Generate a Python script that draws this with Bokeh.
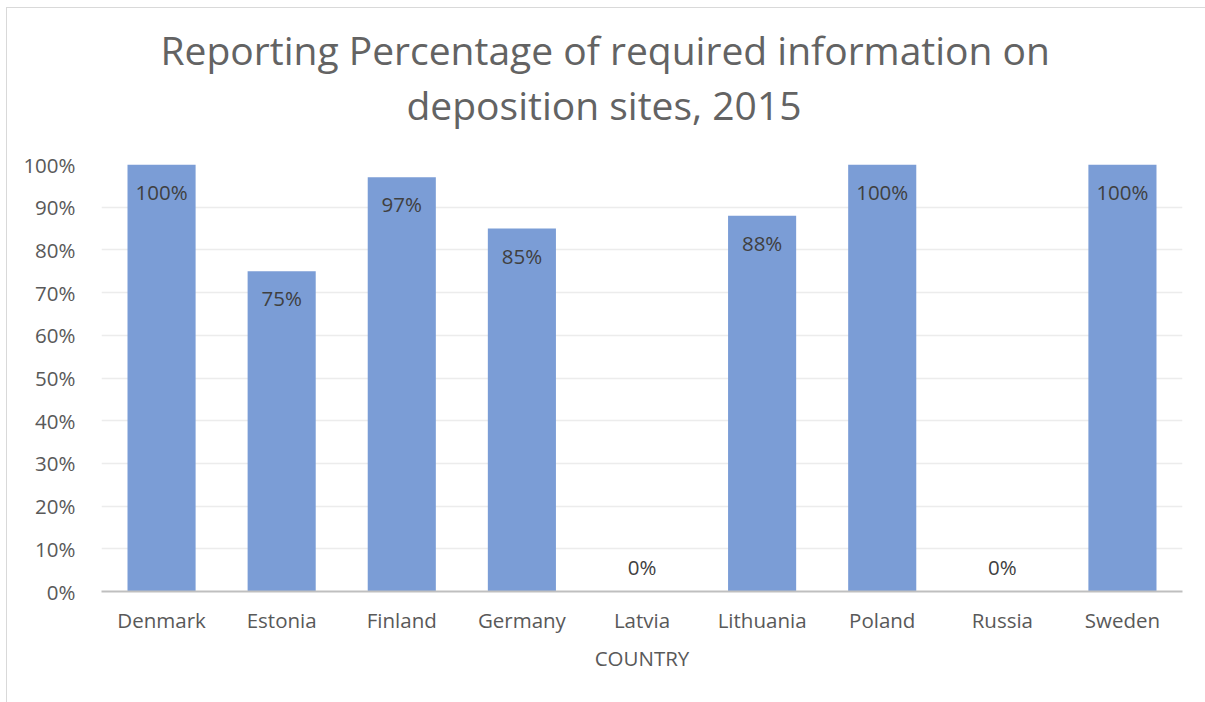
from bokeh.plotting import figure
from bokeh.models import ColumnDataSource, NumeralTickFormatter, FixedTicker, Title
from bokeh.core.properties import value
from bokeh.embed import file_html
from bokeh.resources import INLINE

countries = ["Denmark", "Estonia", "Finland", "Germany", "Latvia", "Lithuania", "Poland", "Russia", "Sweden"]
percent = [100, 75, 97, 85, 0, 88, 100, 0, 100]
y_ticks = [0, 10, 20, 30, 40, 50, 60, 70, 80, 90, 100]
title_lines = ["Reporting Percentage of required information on", "deposition sites, 2015"]

frac = [v / 100 for v in percent]
src = ColumnDataSource(dict(
    x=countries,
    top=frac,
    label=[f"{v}%" for v in percent],
    yoff=[27 if v > 0 else -25 for v in percent],
))

FONT = "Open Sans"
p = figure(x_range=countries, y_range=(0, 1.0), width=1199, height=695,
           output_backend="svg", toolbar_location=None,
           min_border_left=94, min_border_right=24, min_border_top=156, min_border_bottom=112)
p.styles = {"margin-left": "6px", "margin-top": "7px",
            "border-left": "1px solid #d9d9d9", "border-top": "1px solid #d9d9d9"}

p.vbar(x="x", top="top", width=0.567, source=src, fill_color="#7b9dd6", line_color=None)
p.text(x="x", y="top", text="label", source=src, y_offset="yoff",
       text_align="center", text_baseline="middle", text_font=value(FONT),
       text_font_size="20.5px", text_color="#404040")

# spacer between plot and title, then the two title lines (closest first)
p.add_layout(Title(text=" ", text_font_size="1px", standoff=31), "above")
for line, off in ((title_lines[1], 305), (title_lines[0], 59)):
    p.add_layout(Title(text=line, align="left", offset=off, standoff=0,
                       text_font=FONT, text_font_size="39px", text_font_style="normal",
                       text_color="#636363"), "above")

p.outline_line_color = None
p.xgrid.grid_line_color = None
p.ygrid.grid_line_color = "#ececec"
p.ygrid.grid_line_width = 1.5

p.yaxis.ticker = FixedTicker(ticks=[t / 100 for t in y_ticks])
p.yaxis.formatter = NumeralTickFormatter(format="0%")
p.yaxis.axis_line_color = None
p.yaxis.major_tick_line_color = None
p.yaxis.minor_tick_line_color = None
p.yaxis.major_label_standoff = 20

p.xaxis.axis_line_color = "#bfbfbf"
p.xaxis.axis_line_width = 2
p.xaxis.major_tick_line_color = None
p.xaxis.major_label_standoff = 8
p.xaxis.axis_label = "COUNTRY"
p.xaxis.axis_label_standoff = 7

for ax in (p.xaxis, p.yaxis):
    ax.major_label_text_font = FONT
    ax.major_label_text_font_size = "20.5px"
    ax.major_label_text_color = "#595959"
p.xaxis.axis_label_text_font = FONT
p.xaxis.axis_label_text_font_size = "20.5px"
p.xaxis.axis_label_text_font_style = "normal"
p.xaxis.axis_label_text_color = "#595959"

open("out.html", "w").write(file_html(p, INLINE))
